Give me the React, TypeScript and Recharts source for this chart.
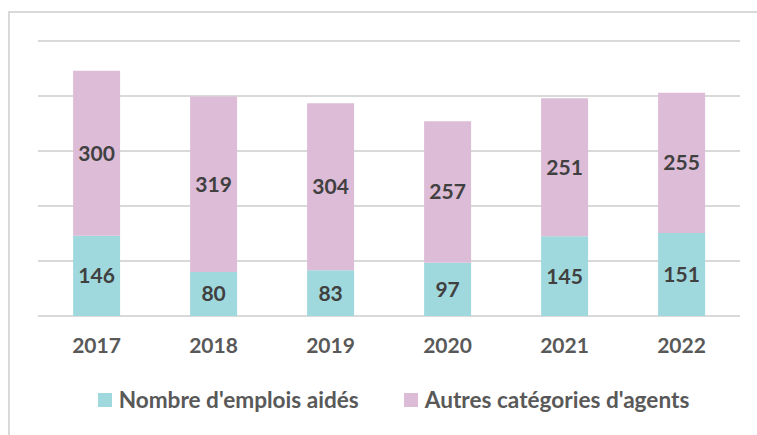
import React from 'react'
import { BarChart, Bar, XAxis, YAxis, CartesianGrid, LabelList } from 'recharts'

const years = ['2017', '2018', '2019', '2020', '2021', '2022']
const emploisAides = [146, 80, 83, 97, 145, 151]
const autresAgents = [300, 319, 304, 257, 251, 255]
const yTicks = [0, 100, 200, 300, 400, 500]

const TEAL = '#A0D9DD'
const PINK = '#DDBCD7'
const FONT = 'Lato, "Open Sans", sans-serif'

const data = years.map((year, i) => ({
	year,
	emplois: emploisAides[i],
	autres: autresAgents[i],
}))

const legendItems = [
	{ name: "Nombre d'emplois aidés", color: TEAL },
	{ name: "Autres catégories d'agents", color: PINK },
]

const ChartLegend = () => (
	<div
		style={{
			position: 'absolute',
			top: 386,
			left: 0,
			width: 787,
			display: 'flex',
			justifyContent: 'center',
			alignItems: 'center',
			fontFamily: FONT,
		}}
	>
		{legendItems.map((item, i) => (
			<div key={item.name} style={{ display: 'flex', alignItems: 'center', marginLeft: i ? 45 : 0 }}>
				<span style={{ width: 14, height: 14, background: item.color, display: 'inline-block', marginRight: 7 }} />
				<span style={{ fontSize: 22.6, fontWeight: 700, color: '#595959' }}>{item.name}</span>
			</div>
		))}
	</div>
)

export default function App() {
	return (
		<div style={{ position: 'absolute', left: 0, top: 0, width: 757, height: 435, background: '#fff', overflow: 'hidden' }}>
			<div
				style={{
					position: 'absolute',
					left: 8,
					top: 11,
					right: 0,
					bottom: 0,
					borderLeft: '2px solid #D9D9D9',
					borderTop: '2px solid #D9D9D9',
				}}
			/>
			<BarChart
				width={757}
				height={435}
				data={data}
				margin={{ top: 41, right: 17, left: 38, bottom: 69 }}
				barCategoryGap='30%'
				style={{ position: 'absolute', left: 0, top: 0 }}
			>
				<CartesianGrid vertical={false} stroke='#D9D9D9' strokeWidth={2} />
				<XAxis
					dataKey='year'
					axisLine={false}
					tickLine={false}
					height={50}
					tickMargin={16}
					tick={{ fontSize: 21, fontWeight: 700, fill: '#595959', fontFamily: FONT }}
				/>
				<YAxis hide domain={[0, 500]} ticks={yTicks} />
				<Bar dataKey='emplois' stackId='a' fill={TEAL} isAnimationActive={false}>
					<LabelList
						dataKey='emplois'
						position='center'
						style={{ fontSize: 21, fontWeight: 700, fill: '#404040', fontFamily: FONT }}
					/>
				</Bar>
				<Bar dataKey='autres' stackId='a' fill={PINK} isAnimationActive={false}>
					<LabelList
						dataKey='autres'
						position='center'
						style={{ fontSize: 21, fontWeight: 700, fill: '#404040', fontFamily: FONT }}
					/>
				</Bar>
			</BarChart>
			<ChartLegend />
		</div>
	)
}
